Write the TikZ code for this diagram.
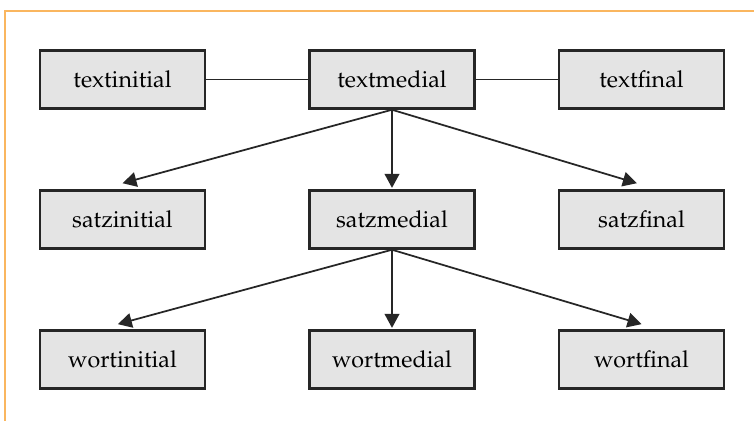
\documentclass[tikz,border=0pt]{standalone}
\usepackage[T1]{fontenc}
\usepackage{mathpazo}
\usepackage{tikz}
\usetikzlibrary{arrows.meta}
\definecolor{boxgray}{RGB}{228,228,228}
\definecolor{framegray}{RGB}{38,38,38}
\definecolor{frameorange}{RGB}{250,182,95}

\begin{document}
\begin{tikzpicture}[x=0.43pt, y=-0.43pt,
		ebene/.style={draw=framegray, fill=boxgray, line width=1pt,
			minimum width=71pt, minimum height=25pt, inner sep=0pt},
		pfeil/.style={line width=0.75pt, draw=framegray,
			-{Triangle[length=6pt, width=6.3pt]}}]
		\useasboundingbox (0,0) rectangle (754,424);
		\draw[frameorange, line width=0.9pt] (754,11) -- (5,11) -- (5,421);

		\node[ebene] (textinitial) at (122.5,79.5) {textinitial};
		\node[ebene] (textmedial) at (392,79.5) {textmedial};
		\node[ebene] (textfinal) at (641.5,79.5) {textfinal};

		\node[ebene] (satzinitial) at (122.5,219.5) {satzinitial};
		\node[ebene] (satzmedial) at (392,219.5) {satzmedial};
		\node[ebene] (satzfinal) at (641.5,219.5) {satzfinal};

		\node[ebene] (wortinitial) at (122.5,359.5) {wortinitial};
		\node[ebene] (wortmedial) at (392,359.5) {wortmedial};
		\node[ebene] (wortfinal) at (641.5,359.5) {wortfinal};

		\draw[framegray, line width=0.6pt] (textinitial) -- (textmedial);
		\draw[framegray, line width=0.75pt] (textmedial) -- (textfinal);

		\draw[pfeil] (textmedial.south) -- ([yshift=2.6pt]satzinitial.north);
		\draw[pfeil] (textmedial.south) -- ([yshift=0.6pt]satzmedial.north);
		\draw[pfeil] (textmedial.south) -- ([xshift=-2pt, yshift=2.6pt]satzfinal.north);

		\draw[pfeil] (satzmedial.south) -- ([xshift=-2pt, yshift=2.2pt]wortinitial.north);
		\draw[pfeil] (satzmedial.south) -- ([yshift=0.6pt]wortmedial.north);
		\draw[pfeil] (satzmedial.south) -- ([yshift=2.2pt]wortfinal.north);
	\end{tikzpicture}
\end{document}
